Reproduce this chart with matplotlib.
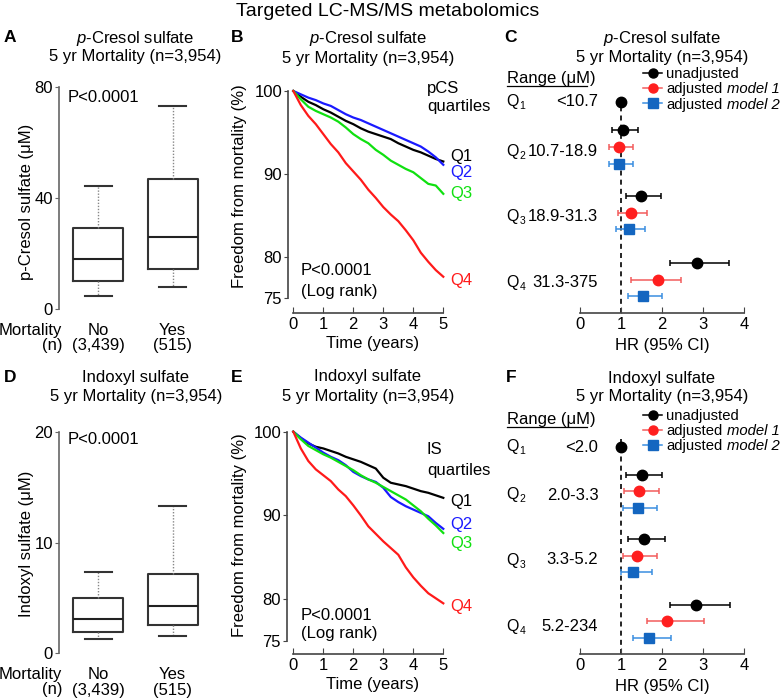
import numpy as np
import matplotlib
matplotlib.use("Agg")
import matplotlib.pyplot as plt
from matplotlib.lines import Line2D

plt.rcParams['font.family'] = ['Liberation Sans', 'DejaVu Sans']
plt.rcParams['mathtext.fontset'] = 'custom'
plt.rcParams['mathtext.rm'] = 'Liberation Sans'
plt.rcParams['mathtext.it'] = 'Liberation Sans:italic'
plt.rcParams['font.size'] = 12

# ---------------------------
# Daten: Boxplots (A, D)
# ---------------------------
groups = ["No", "Yes"]
group_n = ["(3,439)", "(515)"]

pcs_whislo = [4.7, 8.0]
pcs_q1 = [10.1, 14.5]
pcs_med = [18.0, 26.1]
pcs_q3 = [29.3, 47.0]
pcs_whishi = [44.4, 73.2]

is_whislo = [1.3, 1.6]
is_q1 = [1.95, 2.6]
is_med = [3.1, 4.3]
is_q3 = [5.0, 7.2]
is_whishi = [7.4, 13.3]

# ---------------------------
# Daten: Kaplan-Meier (B, E)
# ---------------------------
years = [0, 0.25, 0.5, 0.75, 1, 1.25, 1.5, 1.75, 2, 2.25, 2.5,
         2.75, 3, 3.25, 3.5, 3.75, 4, 4.25, 4.5, 4.75, 5]

pcs_km = {
    "Q1": [100, 99.3, 98.7, 98.3, 97.8, 97.4, 96.9, 96.4, 96.0, 95.5, 95.1,
           94.8, 94.5, 94.2, 93.7, 93.3, 92.9, 92.6, 92.2, 91.8, 91.5],
    "Q2": [100, 99.6, 99.2, 98.9, 98.5, 98.2, 97.7, 97.2, 96.8, 96.5, 96.1,
           95.7, 95.3, 94.9, 94.5, 94.1, 93.7, 93.3, 92.7, 92.0, 91.1],
    "Q3": [100, 99.0, 98.1, 97.6, 97.2, 96.8, 96.3, 95.6, 94.8, 94.2, 93.7,
           92.9, 92.3, 91.6, 91.1, 90.6, 90.2, 89.5, 88.8, 88.6, 87.6],
    "Q4": [100, 98.3, 97.0, 96.0, 94.8, 93.6, 92.6, 91.3, 90.3, 89.3, 88.1,
           87.1, 86.0, 85.1, 84.3, 83.2, 82.0, 80.5, 79.4, 78.4, 77.6],
}
is_km = {
    "Q1": [100, 99.2, 98.6, 98.2, 98.0, 97.7, 97.4, 97.0, 96.7, 96.4, 96.0,
           95.6, 94.5, 93.9, 93.7, 93.5, 93.2, 92.9, 92.7, 92.4, 92.1],
    "Q2": [100, 99.3, 98.7, 98.1, 97.5, 97.0, 96.6, 96.0, 95.2, 94.7, 94.3,
           94.0, 93.3, 92.2, 91.6, 91.1, 90.7, 90.3, 89.9, 89.1, 88.4],
    "Q3": [100, 99.1, 98.3, 97.8, 97.3, 96.9, 96.4, 95.9, 95.4, 94.8, 94.3,
           93.9, 93.4, 92.9, 92.4, 91.9, 91.2, 90.5, 89.6, 88.8, 87.9],
    "Q4": [100, 98.0, 96.5, 95.5, 94.8, 94.1, 93.1, 92.3, 91.2, 90.0, 88.7,
           87.8, 86.9, 86.1, 85.3, 83.8, 82.6, 81.6, 80.7, 80.1, 79.5],
}
km_colors = {"Q1": "black", "Q2": "#1a1aff", "Q3": "#10e010", "Q4": "#ff1a1a"}

# ---------------------------
# Daten: Hazard Ratios (C, F)
# ---------------------------
quartile_nums = ["1", "2", "3", "4"]
pcs_ranges = ["<10.7", "10.7-18.9", "18.9-31.3", "31.3-375"]
is_ranges = ["<2.0", "2.0-3.3", "3.3-5.2", "5.2-234"]

pcs_unadj = [1.0, 1.05, 1.48, 2.84]
pcs_unadj_lo = [1.0, 0.79, 1.12, 2.19]
pcs_unadj_hi = [1.0, 1.40, 1.96, 3.63]
pcs_m1 = [0.96, 1.23, 1.91]
pcs_m1_lo = [0.70, 0.93, 1.23]
pcs_m1_hi = [1.30, 1.62, 2.47]
pcs_m2 = [0.96, 1.19, 1.53]
pcs_m2_lo = [0.70, 0.88, 1.16]
pcs_m2_hi = [1.30, 1.58, 2.00]

is_unadj = [1.0, 1.50, 1.57, 2.82]
is_unadj_lo = [1.0, 1.12, 1.18, 2.18]
is_unadj_hi = [1.0, 2.00, 2.08, 3.65]
is_m1 = [1.44, 1.39, 2.13]
is_m1_lo = [1.07, 1.04, 1.62]
is_m1_hi = [1.92, 1.87, 3.03]
is_m2 = [1.40, 1.30, 1.69]
is_m2_lo = [1.04, 0.99, 1.28]
is_m2_hi = [1.87, 1.75, 2.21]

# ---------------------------
# Layout-Helfer (Pixel -> Figur)
# ---------------------------
W, H = 781, 699
fig = plt.figure(figsize=(W / 100, H / 100), dpi=100)


def add_ax(l, t, r, b):
    return fig.add_axes([l / W, 1 - b / H, (r - l) / W, (b - t) / H])


def ftext(x, y, s, **kw):
    kw.setdefault("ha", "center")
    kw.setdefault("va", "center")
    return fig.text(x / W, 1 - y / H, s, **kw)


ftext(388, 11, "Targeted LC-MS/MS metabolomics", fontsize=14)

# ---------------------------
# Boxplots
# ---------------------------
def box_panel(t, b, lo, q1, med, q3, hi, ymax, yticks, ylab, ylab_y, p_y):
    ax = add_ax(59, t, 210, b)
    stats = [dict(whislo=lo[i], q1=q1[i], med=med[i], q3=q3[i], whishi=hi[i], fliers=[])
             for i in range(len(groups))]
    ax.bxp(stats, positions=[1, 2], widths=0.67, capwidths=0.36, showfliers=False,
           boxprops=dict(color="#333333", lw=1.5),
           medianprops=dict(color="#222222", lw=1.5),
           whiskerprops=dict(color="#888888", lw=1.0, ls=(0, (1, 1.2))),
           capprops=dict(color="#333333", lw=1.5))
    ax.set_xlim(0.475, 2.5)
    ax.set_ylim(0, ymax)
    for s in ["top", "right", "bottom"]:
        ax.spines[s].set_visible(False)
    ax.spines["left"].set_color("#666666")
    ax.spines["left"].set_linewidth(1.2)
    ax.set_yticks(yticks)
    ax.tick_params(axis="y", length=3, color="#666666", labelsize=12, pad=1.5)
    ax.set_xticks([1, 2])
    ax.set_xticklabels([f"{g}\n{n}" for g, n in zip(groups, group_n)], linespacing=1.05)
    ax.tick_params(axis="x", length=0, pad=10, labelsize=12)
    ftext(62.5, b + 13.5, "Mortality\n(n)", ha="right", va="top", linespacing=1.05,
          multialignment="right")
    ftext(26, ylab_y, ylab, rotation=90)
    ftext(68, p_y, "P<0.0001", ha="left")
    return ax


box_panel(87, 309, pcs_whislo, pcs_q1, pcs_med, pcs_q3, pcs_whishi, 80, [0, 40, 80],
          "p-Cresol sulfate (μM)", 202, 98)
box_panel(432.3, 653.3, is_whislo, is_q1, is_med, is_q3, is_whishi, 20, [0, 10, 20],
          "Indoxyl sulfate (μM)", 544, 440)

# ---------------------------
# Kaplan-Meier
# ---------------------------
def km_panel(l, t, b, x0, km, label, ylab_y, q_ys, lab_ys, p_ys, out_px):
    ax = add_ax(l, t, 443.3, b)
    for q, vals in km.items():
        ax.plot(years, vals, color=km_colors[q], lw=1.6, clip_on=False)
    ax.set_xlim(x0, 5)
    ax.set_ylim(75, 100)
    for s in ["top", "right"]:
        ax.spines[s].set_visible(False)
    ax.spines["left"].set_bounds(75, 100)
    ax.spines["bottom"].set_bounds(0, 5)
    ax.spines["bottom"].set_position(("outward", out_px * 0.72))
    for s in ["left", "bottom"]:
        ax.spines[s].set_color("#444444")
        ax.spines[s].set_linewidth(1.2)
    ax.set_yticks([75, 80, 90, 100])
    ax.set_xticks([0, 1, 2, 3, 4, 5])
    ax.tick_params(axis="y", length=3, color="#444444", labelsize=12, pad=1.5)
    ax.tick_params(axis="x", direction="in", length=4, color="#444444", labelsize=12, pad=3)
    ftext(239.3, ylab_y, "Freedom from mortality (%)", rotation=90)
    ftext(373, b + out_px + 31, "Time (years)")
    ftext(427, lab_ys[0], label, ha="left")
    ftext(427, lab_ys[1], "quartiles", ha="left")
    for q, y in zip(km, q_ys):
        ftext(450, y, q, ha="left", color=km_colors[q])
    ftext(301, p_ys[0], "P<0.0001", ha="left")
    ftext(301, p_ys[1], "(Log rank)", ha="left")
    return ax


km_panel(288.3, 91, 298.3, -0.167, pcs_km, "pCS", 186,
         [156, 172.7, 193.3, 280], [88.3, 106], [270.7, 291.7], 14.4)
km_panel(287.3, 431.7, 641, -0.2, is_km, "IS", 535,
         [501.7, 524, 543.3, 606.7], [450, 470], [615, 633.3], 13)

# ---------------------------
# Hazard Ratios
# ---------------------------
centers = np.array([2.7, 6.65, 10.67])
y_unadj = np.concatenate([[0], centers - 1])
y_m1 = centers
y_m2 = centers + 1

red, red_err = "#ff1f1f", "#f25c5c"
blue, blue_err = "#1466c0", "#3a8ee0"
legends = []
LEG_FS = 10.7


def hr_panel(bottom, unit, unadj, ulo, uhi, m1, lo1, hi1, m2, lo2, hi2,
             ranges, q_ys, range_y, leg_y):
    top = bottom - 13.18 * unit
    ax = add_ax(580, top, 744.3, bottom)
    ax.axvline(1, color="black", lw=1.2, ls=(0, (3, 2.5)), zorder=1)
    series = [
        (unadj, ulo, uhi, y_unadj, "o", "black", "black"),
        (m1, lo1, hi1, y_m1, "o", red, red_err),
        (m2, lo2, hi2, y_m2, "s", blue, blue_err),
    ]
    for hr, lo, hi, ys, mk, c, ec in series:
        hr = np.array(hr)
        err = [hr - np.array(lo), np.array(hi) - hr]
        ax.errorbar(hr, ys, xerr=err, fmt=mk, color=c, ecolor=ec, ms=7.5,
                    elinewidth=1.1, capsize=2.2, capthick=1.1, zorder=3, clip_on=False)
    ax.set_xlim(0, 4)
    ax.set_ylim(12.68, -0.5)
    for s in ["top", "right", "left"]:
        ax.spines[s].set_visible(False)
    ax.spines["bottom"].set_color("#444444")
    ax.spines["bottom"].set_linewidth(1.2)
    ax.set_yticks([])
    ax.set_xticks([0, 1, 2, 3, 4])
    ax.tick_params(axis="x", direction="in", length=4, color="#444444", labelsize=12, pad=3)
    ftext(662, bottom + 32, "HR (95% CI)")
    for n, r, y in zip(quartile_nums, ranges, q_ys):
        ftext(506.7, y, "Q", ha="left", fontsize=11.5)
        ftext(519.3, y + 4.5, n, ha="left", fontsize=7.5)
        ftext(598.3, y, r, ha="right")
    ftext(506.7, range_y, "Range (μM)", ha="left")
    fig.add_artist(Line2D([506.7 / W, 587 / W], [1 - (range_y + 8) / H] * 2,
                          color="black", lw=0.9))
    handles = [
        Line2D([], [], color="black", marker="o", ms=6.5, lw=1.1),
        Line2D([], [], color=red_err, marker="o", ms=6.5, mfc=red, mec=red, lw=1.1),
        Line2D([], [], color=blue_err, marker="s", ms=6.5, mfc=blue, mec=blue, lw=1.1),
    ]
    labels = ["unadjusted", "adjusted", "adjusted"]
    leg = fig.legend(handles, labels, loc="upper left", bbox_to_anchor=(643 / W, 1 - leg_y / H),
                     frameon=False, handlelength=1.3, handletextpad=0.27, labelspacing=0.08,
                     borderpad=0, borderaxespad=0, fontsize=LEG_FS)
    legends.append(leg)
    return ax


hr_panel(313.3, 16.67, pcs_unadj, pcs_unadj_lo, pcs_unadj_hi, pcs_m1, pcs_m1_lo, pcs_m1_hi,
         pcs_m2, pcs_m2_lo, pcs_m2_hi, pcs_ranges, [101.7, 151.7, 216.7, 282.3], 78.3, 67.2)
hr_panel(654, 16.3, is_unadj, is_unadj_lo, is_unadj_hi, is_m1, is_m1_lo, is_m1_hi,
         is_m2, is_m2_lo, is_m2_hi, is_ranges, [447, 495, 560, 626.7], 419.3, 408.8)

# kursiver Zusatz "model 1/2" hinter den Legendentexten
fig.canvas.draw()
renderer = fig.canvas.get_renderer()
for leg in legends:
    for txt, suffix in zip(leg.get_texts()[1:], ["model 1", "model 2"]):
        bb = txt.get_window_extent(renderer)
        fig.text((bb.x1 + 4.1) / W, (bb.y0 + bb.y1) / 2 / H, suffix, style="italic",
                 ha="left", va="center", fontsize=LEG_FS)

# ---------------------------
# Titel und Buchstaben
# ---------------------------
pcs_title = r"$\mathit{p}$-Cresol sulfate"
is_title = "Indoxyl sulfate"
sub = "5 yr Mortality (n=3,954)"
for x, y, t in [(135, 38, pcs_title), (368, 39, pcs_title), (662, 38.5, pcs_title),
                (136, 377.5, is_title), (368, 377, is_title), (662, 378, is_title)]:
    ftext(x, y, t)
    ftext(x, y + 19, sub)
for x, y, letter in [(10, 38, "A"), (237, 38, "B"), (511, 38, "C"),
                     (10, 377.5, "D"), (237, 377, "E"), (511, 377, "F")]:
    ftext(x, y, letter, fontweight="bold", fontsize=12.5)

fig.savefig("out.png", dpi=100)
